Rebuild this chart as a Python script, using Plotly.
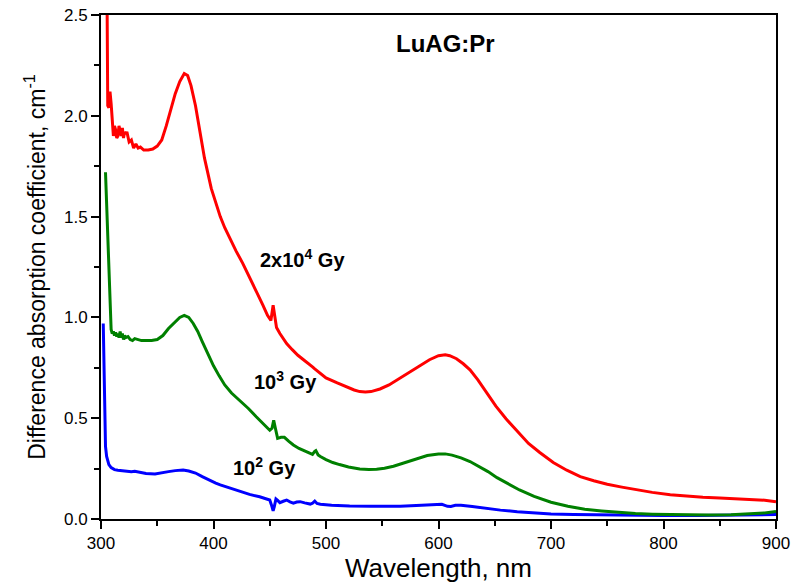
import plotly.graph_objects as go

# Difference absorption spectra of LuAG:Pr after irradiation at three doses
wl_2e4 = [305, 306, 307, 308, 309, 310, 311, 312, 313, 314, 315, 316, 317, 318, 319, 320,
          321, 322, 323, 325, 327, 329, 331, 333, 335, 338, 342, 346, 350, 354, 358, 362,
          366, 370, 374, 377, 380, 384, 388, 392, 398, 402, 406, 410, 415, 420, 426, 432,
          438, 444, 448, 451, 453, 454, 456, 459, 462, 465, 470, 475, 480, 485, 488, 490,
          495, 500, 510, 518, 525, 530, 535, 540, 548, 556, 566, 575, 584, 592, 600, 606,
          610, 616, 622, 628, 635, 643, 651, 660, 668, 672, 680, 690, 702, 714, 726, 738,
          750, 763, 776, 790, 806, 820, 835, 850, 865, 880, 890, 900]
abs_2e4 = [2.90, 2.05, 2.04, 2.12, 2.06, 1.96, 1.90, 1.95, 1.93, 1.89, 1.90, 1.95, 1.93, 1.90,
           1.94, 1.89, 1.92, 1.91, 1.92, 1.87, 1.88, 1.84, 1.86, 1.84, 1.845, 1.83, 1.83,
           1.835, 1.85, 1.88, 1.95, 2.03, 2.11, 2.17, 2.21, 2.20, 2.15, 2.05, 1.91, 1.79,
           1.64, 1.565, 1.50, 1.445, 1.385, 1.33, 1.268, 1.20, 1.13, 1.06, 1.01, 0.985, 1.06,
           1.02, 0.95, 0.92, 0.895, 0.87, 0.84, 0.812, 0.79, 0.77, 0.755, 0.745, 0.722, 0.70,
           0.675, 0.655, 0.64, 0.632, 0.63, 0.632, 0.645, 0.665, 0.70, 0.73, 0.76, 0.79,
           0.81, 0.815, 0.81, 0.795, 0.77, 0.74, 0.69, 0.625, 0.56, 0.497, 0.447, 0.42, 0.375,
           0.33, 0.28, 0.242, 0.21, 0.19, 0.172, 0.158, 0.145, 0.132, 0.12, 0.113, 0.108,
           0.104, 0.101, 0.098, 0.093, 0.086]

wl_1e3 = [304, 305, 306, 307, 308, 309, 310, 311, 312, 313, 314, 315, 316, 317, 318, 319,
          320, 321, 322, 324, 326, 328, 330, 333, 336, 340, 345, 350, 355, 360, 365, 370,
          374, 378, 382, 386, 390, 395, 400, 405, 410, 416, 424, 431, 438, 444, 450, 452,
          453.5, 455, 457, 460, 463, 467, 471, 476, 480, 485, 488, 490, 491, 493, 495, 500,
          506, 512, 520, 530, 538, 545, 552, 560, 570, 580, 590, 600, 606, 612, 620, 628,
          636, 644, 652, 660, 672, 685, 700, 715, 730, 745, 760, 775, 790, 805, 820, 840,
          860, 875, 890, 900]
abs_1e3 = [1.72, 1.55, 1.40, 1.20, 1.05, 0.94, 0.92, 0.93, 0.91, 0.925, 0.905, 0.92, 0.90,
           0.93, 0.90, 0.92, 0.89, 0.91, 0.90, 0.905, 0.89, 0.885, 0.895, 0.89, 0.885, 0.885,
           0.885, 0.89, 0.91, 0.945, 0.975, 1.00, 1.01, 1.00, 0.97, 0.93, 0.88, 0.82, 0.76,
           0.71, 0.665, 0.625, 0.585, 0.548, 0.507, 0.475, 0.44, 0.45, 0.49, 0.45, 0.40, 0.405,
           0.405, 0.385, 0.367, 0.35, 0.34, 0.325, 0.32, 0.335, 0.339, 0.318, 0.31, 0.295,
           0.28, 0.27, 0.258, 0.248, 0.245, 0.247, 0.252, 0.262, 0.28, 0.30, 0.315, 0.322,
           0.323, 0.317, 0.303, 0.285, 0.262, 0.235, 0.205, 0.18, 0.144, 0.112, 0.083, 0.063,
           0.048, 0.04, 0.033, 0.027, 0.024, 0.022, 0.021, 0.02, 0.021, 0.024, 0.03, 0.037]

wl_1e2 = [302, 302.5, 303, 304, 305, 307, 309, 312, 315, 318, 321, 324, 327, 330, 335, 340,
          348, 355, 360, 366, 373, 378, 384, 390, 396, 402, 406, 412, 418, 424, 432, 441,
          447, 450, 451.5, 453, 454, 455.5, 457, 459, 462, 465, 468, 471, 474, 477, 481,
          486, 488, 490, 492, 495, 505, 521, 540, 566, 585, 597, 603, 608, 611, 615, 620,
          630, 640, 655, 670, 685, 700, 720, 745, 770, 800, 830, 860, 880, 900]
abs_1e2 = [0.97, 0.80, 0.55, 0.36, 0.31, 0.27, 0.255, 0.245, 0.242, 0.24, 0.238, 0.236,
           0.235, 0.237, 0.232, 0.226, 0.223, 0.228, 0.235, 0.24, 0.243, 0.238, 0.228, 0.21,
           0.192, 0.178, 0.169, 0.158, 0.146, 0.135, 0.122, 0.11, 0.10, 0.094, 0.07, 0.041,
           0.06, 0.099, 0.092, 0.081, 0.088, 0.094, 0.085, 0.079, 0.084, 0.086, 0.08, 0.074,
           0.078, 0.089, 0.077, 0.073, 0.068, 0.064, 0.063, 0.063, 0.068, 0.073, 0.073,
           0.063, 0.062, 0.068, 0.068, 0.062, 0.054, 0.044, 0.036, 0.029, 0.025, 0.022,
           0.02, 0.018, 0.017, 0.017, 0.018, 0.02, 0.022]

x_ticks = [300, 400, 500, 600, 700, 800, 900]
y_ticks = [0.0, 0.5, 1.0, 1.5, 2.0, 2.5]
y_tick_text = ["0.0", "0.5", "1.0", "1.5", "2.0", "2.5"]

FONT = "Arial, Liberation Sans, sans-serif"

fig = go.Figure()
for wl, ab, col in [(wl_1e2, abs_1e2, "#0000ff"),
                    (wl_1e3, abs_1e3, "#008000"),
                    (wl_2e4, abs_2e4, "#ff0000")]:
    fig.add_trace(go.Scatter(x=wl, y=ab, mode="lines",
                             line=dict(color=col, width=3), showlegend=False))

labels = [
    (606, 2.36, "LuAG:Pr", 24),
    (479, 1.29, "2x10<sup>4</sup> Gy", 20),
    (464, 0.685, "10<sup>3</sup> Gy", 20),
    (445, 0.262, "10<sup>2</sup> Gy", 20),
]
for x, y, txt, size in labels:
    fig.add_annotation(x=x, y=y, xref="x", yref="y", text="<b>" + txt + "</b>",
                       showarrow=False, font=dict(family=FONT, size=size, color="black"))

axis_common = dict(
    showline=True, linecolor="black", linewidth=2, mirror=True,
    showgrid=False, zeroline=False, automargin=False,
    ticks="outside", ticklen=8, tickwidth=2, tickcolor="black",
    tickfont=dict(family=FONT, size=17, color="black"),
)

fig.update_xaxes(
    range=[300, 900], tickvals=x_ticks,
    minor=dict(ticks="outside", ticklen=5, tickwidth=2, tickcolor="black", dtick=50,
               showgrid=False),
    title=dict(text="Wavelength, nm", font=dict(family=FONT, size=26, color="black"),
               standoff=6),
    **axis_common,
)
fig.update_yaxes(
    range=[0, 2.5], tickvals=y_ticks, ticktext=y_tick_text,
    minor=dict(ticks="outside", ticklen=5, tickwidth=2, tickcolor="black", dtick=0.25,
               showgrid=False),
    title=dict(text="Difference absorption coefficient, cm<sup>-1</sup>",
               font=dict(family=FONT, size=23, color="black"), standoff=12),
    **axis_common,
)

fig.update_layout(
    template="none",
    width=808, height=587,
    margin=dict(l=101, r=32, t=15, b=68),
    plot_bgcolor="white", paper_bgcolor="white",
)

fig.write_html("out.html")
